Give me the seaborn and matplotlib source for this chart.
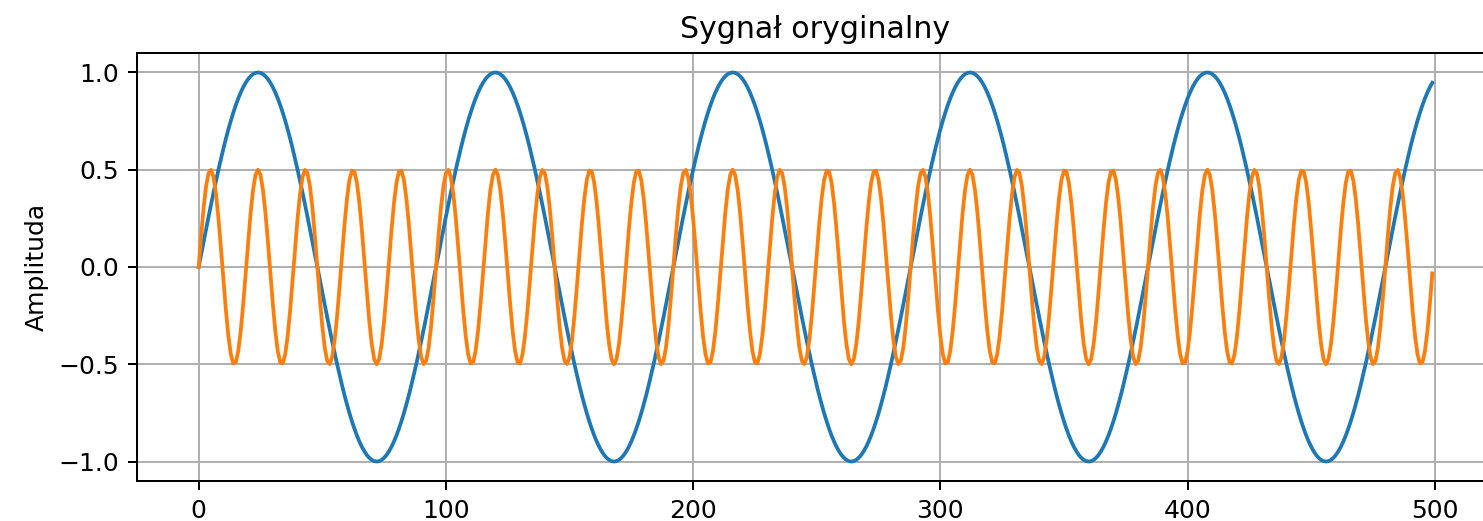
import numpy as np
import pandas as pd
import matplotlib
matplotlib.use("Agg")
import matplotlib.pyplot as plt
import seaborn as sns

# === Parametry sygnału ===
n_samples = 500
fs = 480                 # próbki na sekundę
freqs = [5, 25]          # Hz
amps = [1.0, 0.5]
colors = ["#1f77b4", "#ff7f0e"]

n = np.arange(n_samples)
df = pd.DataFrame({"n": n})
for i, (f, a) in enumerate(zip(freqs, amps)):
    df[f"s{i}"] = a * np.sin(2 * np.pi * f * n / fs)

# --- wykres ---
fig = plt.figure(figsize=(1484 / 180, 521 / 180), dpi=180)
ax = fig.add_axes([137 / 1484, 40 / 521, (1494 - 137) / 1484, (481 - 53) / 521])

for i, c in enumerate(colors):
    sns.lineplot(x="n", y=f"s{i}", data=df, color=c, linewidth=1.5, ax=ax)

ax.set_title("Sygnał oryginalny")
ax.set_ylabel("Amplituda")
ax.set_xlabel("")
ax.set_xticks([0, 100, 200, 300, 400, 500])
ax.set_yticks([-1.0, -0.5, 0.0, 0.5, 1.0])
ax.grid(True)

plt.savefig("out.png", dpi=180)
plt.close()
